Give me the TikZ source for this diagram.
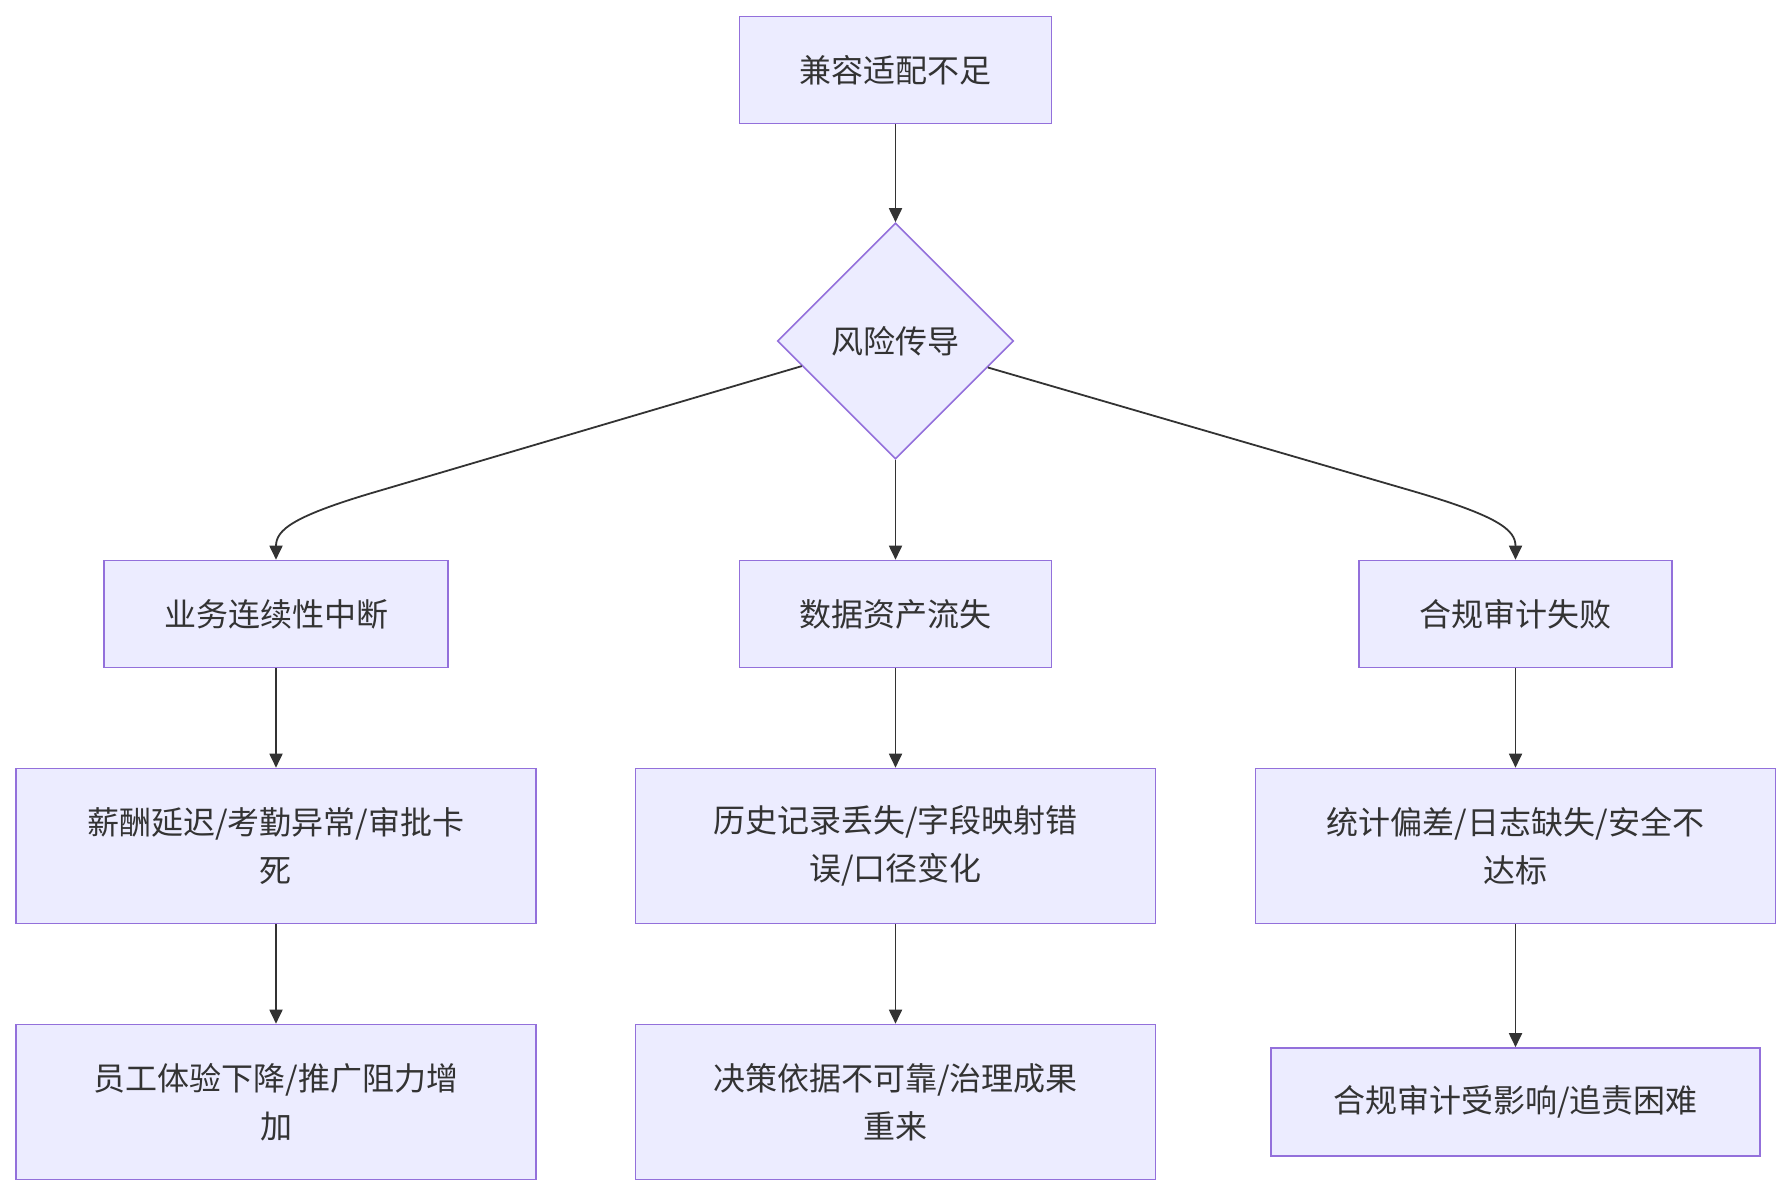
\documentclass[tikz,border=0pt]{standalone}
\usepackage{fontspec}
\newfontfamily\cjk{Noto Sans CJK SC}
\usetikzlibrary{shapes.geometric,arrows.meta}
\definecolor{boxfill}{HTML}{ECECFF}
\definecolor{boxline}{HTML}{9370DB}
\definecolor{edgecol}{HTML}{333333}
\definecolor{txt}{HTML}{333333}
\tikzset{
  box/.style={draw=boxline, fill=boxfill, line width=1.6pt, rectangle, align=center,
    text=txt, inner sep=0pt, font=\cjk\fontsize{32}{48}\selectfont},
  dia/.style={draw=boxline, fill=boxfill, line width=1.6pt, diamond, aspect=1, inner sep=0pt,
    minimum size=236pt, text=txt, font=\cjk\fontsize{32}{48}\selectfont},
  edge/.style={draw=edgecol, line width=1.8pt, -{Triangle[length=14pt,width=13pt]}}
}
\begin{document}
\begin{tikzpicture}[x=1pt,y=-1pt]
\useasboundingbox (0,0) rectangle (1792,1196);
\node[box, minimum width=312pt, minimum height=107pt] (A) at (895.5,70) {兼容适配不足};
\node[dia] (B) at (895.5,341) {风险传导};
\node[box, minimum width=344pt, minimum height=107pt] (C1) at (276,614) {业务连续性中断};
\node[box, minimum width=312pt, minimum height=107pt] (C2) at (895.5,614) {数据资产流失};
\node[box, minimum width=313pt, minimum height=107pt] (C3) at (1515.5,614) {合规审计失败};
\node[box, minimum width=520pt, minimum height=155pt] (D1) at (276,846) {薪酬延迟/考勤异常/审批卡\\死};
\node[box, minimum width=520pt, minimum height=155pt] (D2) at (895.5,846) {历史记录丢失/字段映射错\\误/口径变化};
\node[box, minimum width=520pt, minimum height=155pt] (D3) at (1515.5,846) {统计偏差/日志缺失/安全不\\达标};
\node[box, minimum width=520pt, minimum height=155pt] (E1) at (276,1102) {员工体验下降/推广阻力增\\加};
\node[box, minimum width=520pt, minimum height=155pt] (E2) at (895.5,1102) {决策依据不可靠/治理成果\\重来};
\node[box, minimum width=489pt, minimum height=108pt] (E3) at (1515.5,1102) {合规审计受影响/追责困难};

\draw[edge] (A.south) -- (B.north);
\draw[edge] (B.south) -- (C2.north);
\draw[edge] (B.195.6) -- (382,490) .. controls (292,516) and (276,530) .. (C1.north);
\draw[edge] (B.344.4) -- (1409,490) .. controls (1499,516) and (1515.5,530) .. (C3.north);
\draw[edge] (C1.south) -- (D1.north);
\draw[edge] (C2.south) -- (D2.north);
\draw[edge] (C3.south) -- (D3.north);
\draw[edge] (D1.south) -- (E1.north);
\draw[edge] (D2.south) -- (E2.north);
\draw[edge] (D3.south) -- (E3.north);
\end{tikzpicture}
\end{document}
